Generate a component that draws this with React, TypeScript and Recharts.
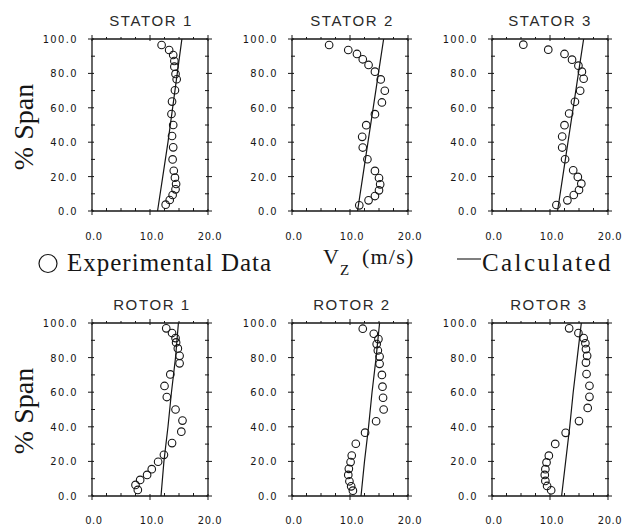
import React from "react";
import { ScatterChart, Scatter, XAxis, YAxis } from "recharts";

const spanTicks = [0, 10, 20, 30, 40, 50, 60, 70, 80, 90, 100];
const vzTicks = [0, 2.5, 5, 7.5, 10, 12.5, 15, 17.5, 20];

// [Vz (m/s), % span]
const stator1Exp = [[12.0,96.5],[13.3,93.6],[14.0,90.7],[14.2,87.2],[14.2,83.9],[14.4,79.7],[14.6,76.6],[14.3,70.2],[13.8,63.6],[13.7,56.4],[14.0,50.0],[13.8,43.6],[14.0,37.0],[13.9,30.0],[14.1,23.4],[14.3,19.4],[14.5,15.7],[14.4,12.6],[13.9,9.3],[13.4,6.4],[12.7,3.7]];
const stator1Calc = [[11.3,0],[12.2,20],[13.1,40],[13.9,60],[14.7,80],[15.5,100]];

const stator2Exp = [[6.4,96.5],[9.7,93.6],[11.2,91.3],[12.2,88.2],[13.2,84.9],[14.3,81.0],[15.3,76.5],[16.0,69.9],[15.5,63.1],[14.3,56.3],[12.8,49.9],[12.1,43.1],[12.2,36.9],[13.0,30.1],[14.3,23.3],[15.0,19.2],[15.2,15.5],[15.0,12.0],[14.3,8.7],[13.2,6.2],[11.6,3.3]];
const stator2Calc = [[11.3,0],[12.2,20],[13.1,40],[14.0,60],[14.9,80],[15.8,100]];

const stator3Exp = [[5.4,96.7],[9.7,93.8],[12.5,91.3],[13.8,88.0],[14.9,84.5],[15.5,81.0],[15.8,76.9],[15.2,69.9],[14.3,63.5],[13.3,56.7],[12.5,49.9],[12.1,43.3],[12.1,36.9],[12.6,30.1],[14.0,23.7],[14.8,19.8],[15.4,15.9],[15.0,12.2],[14.1,9.3],[13.0,6.2],[11.1,3.5]];
const stator3Calc = [[11.3,0],[12.2,20],[13.1,40],[14.0,60],[14.9,80],[15.8,100]];

const rotor1Exp = [[12.8,96.9],[13.8,94.2],[14.4,91.3],[14.5,88.8],[14.8,85.3],[15.1,81.0],[15.1,76.7],[13.5,70.3],[12.5,63.6],[12.9,57.2],[14.4,50.0],[15.6,43.6],[15.4,37.2],[13.8,30.6],[12.4,23.8],[11.4,19.8],[10.3,15.5],[9.5,12.2],[8.3,9.3],[7.5,6.4],[7.9,3.5]];
const rotor1Calc = [[11.9,0],[12.4,20],[13.1,40],[13.7,60],[14.4,80],[14.9,100]];

const rotor2Exp = [[12.2,96.7],[14.1,93.8],[14.9,90.7],[14.6,87.8],[14.8,84.1],[15.1,80.6],[15.1,76.4],[15.5,70.0],[15.6,63.2],[15.7,56.8],[15.8,50.0],[14.5,43.2],[12.6,36.6],[11.0,30.2],[10.3,23.4],[10.1,19.6],[9.8,15.7],[9.7,12.2],[9.9,8.5],[10.2,5.6],[10.5,3.1]];
const rotor2Calc = [[11.9,0],[12.5,20],[13.2,40],[13.8,60],[14.5,80],[15.1,100]];

const rotor3Exp = [[13.3,96.9],[14.9,94.2],[15.8,91.3],[16.1,88.3],[16.2,84.9],[16.4,81.0],[16.2,77.1],[16.3,70.5],[16.8,63.7],[16.8,57.3],[16.5,50.9],[15.0,43.3],[12.7,36.5],[10.9,30.1],[9.8,23.3],[9.4,19.4],[9.2,15.5],[9.1,12.2],[9.2,8.7],[9.5,5.8],[10.2,3.3]];
const rotor3Calc = [[12.0,0],[12.7,20],[13.4,40],[14.0,60],[14.7,80],[15.4,100]];

const INK = "#161616";
const tickFont = "'Liberation Sans Narrow', 'DejaVu Sans Condensed', sans-serif";

const toPts = (arr: number[][]) => arr.map(([vz, span]) => ({ vz, span }));

function renderTick(p: any, side: string, labelDy: number) {
  const { x, y, payload } = p;
  const v = payload.value;
  const major = side === "l" || side === "r" ? v % 20 === 0 : v % 10 === 0;
  let line;
  let label = null;
  if (side === "b") {
    line = major ? <line x1={x} x2={x} y1={y - 2} y2={y + 4} /> : <line x1={x} x2={x} y1={y - 3} y2={y} />;
    if (major)
      label = (
        <text x={x + 2} y={y + labelDy} textAnchor="middle" fontSize={11} letterSpacing={0.6} fontFamily={tickFont} fill={INK} stroke="none">
          {v.toFixed(1)}
        </text>
      );
  } else if (side === "t") {
    line = major ? <line x1={x} x2={x} y1={y - 4} y2={y + 2} /> : <line x1={x} x2={x} y1={y - 2} y2={y} />;
  } else if (side === "l") {
    line = major ? <line x1={x - 4} x2={x + 2} y1={y} y2={y} /> : <line x1={x - 1} x2={x + 3} y1={y} y2={y} />;
    if (major)
      label = (
        <text x={x - 14} y={y + 4} textAnchor="end" fontSize={11} letterSpacing={1.4} fontFamily={tickFont} fill={INK} stroke="none">
          {v.toFixed(1)}
        </text>
      );
  } else {
    line = major ? <line x1={x - 2} x2={x + 4} y1={y} y2={y} /> : <line x1={x - 3} x2={x + 1} y1={y} y2={y} />;
  }
  return (
    <g stroke={INK} strokeWidth={1}>
      {line}
      {label}
    </g>
  );
}

function Panel({ exp, calc, left, top, h, labelDy }: any) {
  // axes take 1px each, margins hold the labels
  const mL = 50, mT = 12, mR = 28, mB = 40;
  const axisLine = { stroke: INK, strokeWidth: 1.3 };
  const common = { type: "number" as const, tickSize: 0, tickMargin: 0, tickLine: false, interval: 0 as const, allowDataOverflow: true, axisLine };
  return (
    <div style={{ position: "absolute", left: left - mL - 1, top: top - mT - 1 }}>
      <ScatterChart width={116 + mL + mR + 2} height={h + mT + mB + 2} margin={{ top: mT, right: mR, bottom: mB, left: mL }}>
        <XAxis {...common} xAxisId="b" orientation="bottom" dataKey="vz" domain={[0, 20]} ticks={vzTicks} height={1} tick={(p: any) => renderTick(p, "b", labelDy)} />
        <XAxis {...common} xAxisId="t" orientation="top" dataKey="vz" domain={[0, 20]} ticks={vzTicks} height={1} tick={(p: any) => renderTick(p, "t", 0)} />
        <YAxis {...common} yAxisId="l" orientation="left" dataKey="span" domain={[0, 100]} ticks={spanTicks} width={1} tick={(p: any) => renderTick(p, "l", 0)} />
        <YAxis {...common} yAxisId="r" orientation="right" dataKey="span" domain={[0, 100]} ticks={spanTicks} width={1} tick={(p: any) => renderTick(p, "r", 0)} />
        <Scatter xAxisId="b" yAxisId="l" data={toPts(calc)} line={{ stroke: INK, strokeWidth: 1.2 }} shape={() => <g />} isAnimationActive={false} />
        <Scatter
          xAxisId="b"
          yAxisId="l"
          data={toPts(exp)}
          shape={(p: any) => <circle cx={p.cx} cy={p.cy} r={3.8} fill="none" stroke={INK} strokeWidth={1.1} />}
          isAnimationActive={false}
        />
      </ScatterChart>
    </div>
  );
}

const panels = [
  { title: "STATOR 1", exp: stator1Exp, calc: stator1Calc, left: 92, top: 39, h: 172, labelDy: 29, tx: 151, ty: 26 },
  { title: "STATOR 2", exp: stator2Exp, calc: stator2Calc, left: 292, top: 39, h: 172, labelDy: 29, tx: 352, ty: 26 },
  { title: "STATOR 3", exp: stator3Exp, calc: stator3Calc, left: 492, top: 39, h: 172, labelDy: 29, tx: 550, ty: 26 },
  { title: "ROTOR 1", exp: rotor1Exp, calc: rotor1Calc, left: 92, top: 323, h: 173, labelDy: 28, tx: 152, ty: 310 },
  { title: "ROTOR 2", exp: rotor2Exp, calc: rotor2Calc, left: 292, top: 323, h: 173, labelDy: 28, tx: 352, ty: 310 },
  { title: "ROTOR 3", exp: rotor3Exp, calc: rotor3Calc, left: 492, top: 323, h: 173, labelDy: 28, tx: 549, ty: 310 },
];

export default function App() {
  const serif = "'Liberation Serif', 'Times New Roman', serif";
  return (
    <div style={{ position: "absolute", left: 0, top: 0, width: 622, height: 530, background: "#fff" }}>
      {panels.map((p) => (
        <Panel key={p.title} {...p} />
      ))}
      <svg width={622} height={530} style={{ position: "absolute", left: 0, top: 0, pointerEvents: "none" }}>
        {panels.map((p) => (
          <text key={p.title} x={p.tx} y={p.ty} textAnchor="middle" fontSize={15} letterSpacing={1.6} fontFamily="'Liberation Sans', Arial, sans-serif" fill="#2a2a2a">
            {p.title}
          </text>
        ))}
        <text transform="translate(33,127) rotate(-90)" textAnchor="middle" fontSize={28} fontFamily={serif} fill={INK}>% Span</text>
        <text transform="translate(33,411) rotate(-90)" textAnchor="middle" fontSize={28} fontFamily={serif} fill={INK}>% Span</text>
        <circle cx={48} cy={263.5} r={9} fill="none" stroke={INK} strokeWidth={1.2} />
        <text x={67} y={271} fontSize={25} letterSpacing={1} fontFamily={serif} fill={INK}>Experimental Data</text>
        <text y={264} fontSize={22} fontFamily={serif} fill={INK}>
          <tspan x={323}>V</tspan>
          <tspan x={340} y={275} fontSize={15}>Z</tspan>
          <tspan x={362} y={264} letterSpacing={1.2}>(m/s)</tspan>
        </text>
        <line x1={457} x2={481} y1={259} y2={259} stroke={INK} strokeWidth={1.1} />
        <text x={482} y={271} fontSize={25} letterSpacing={2.4} fontFamily={serif} fill={INK}>Calculated</text>
      </svg>
    </div>
  );
}
